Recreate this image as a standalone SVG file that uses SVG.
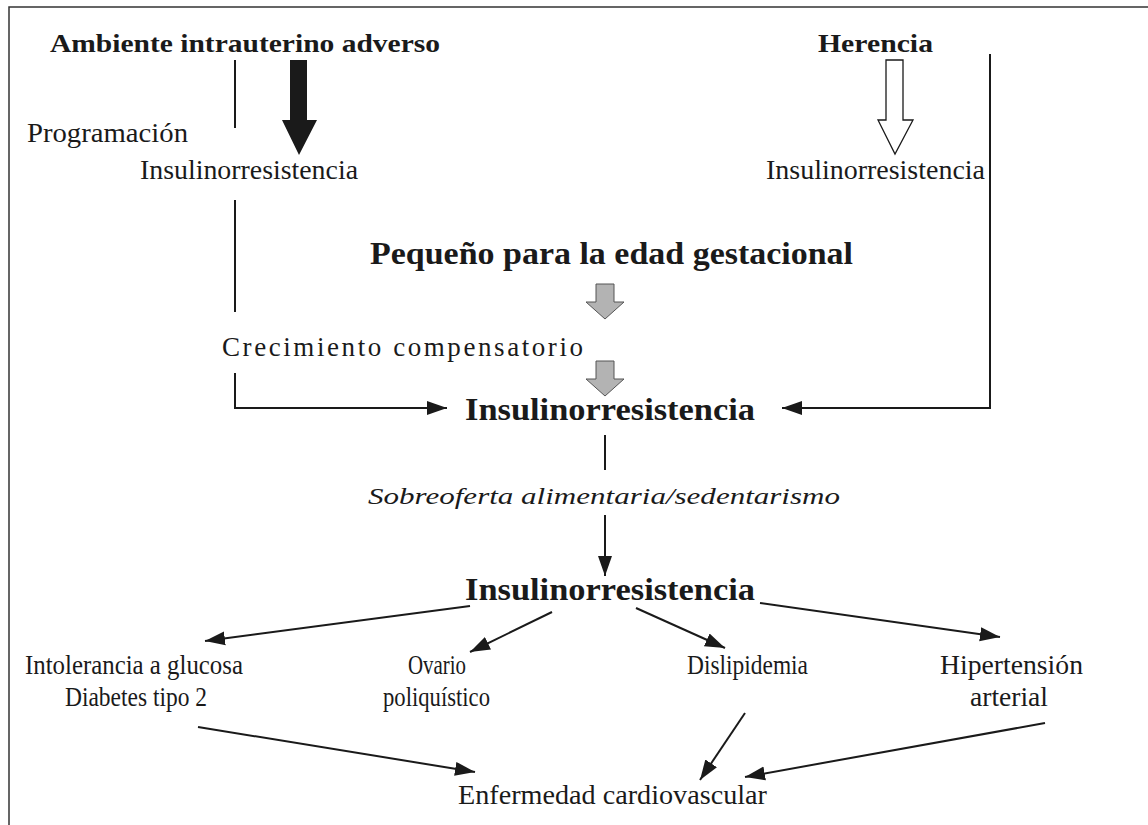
<svg xmlns="http://www.w3.org/2000/svg" width="1148" height="825" viewBox="0 0 1148 825">
<defs>
<style>
.t{font-family:"Liberation Serif","DejaVu Serif",serif;fill:#1a1a1a;font-size:27px}
.b{font-weight:bold}
.i{font-style:italic}
.ln{stroke:#1a1a1a;stroke-width:2;fill:none}
</style>
<marker id="ah" markerUnits="userSpaceOnUse" markerWidth="22" markerHeight="16" refX="20" refY="8" orient="auto">
<path d="M0,1 L20,8 L0,15 Z" fill="#1a1a1a"/>
</marker>
</defs>
<rect width="1148" height="825" fill="#fff"/>
<g id="frame"><path d="M9,825 V7 H1148" stroke="#333" stroke-width="1.5" fill="none"/></g>

<g id="connectors">
<path class="ln" d="M235,60 V128"/>
<path class="ln" d="M235,200 V312"/>
<path class="ln" d="M235,373 V408 H447" marker-end="url(#ah)"/>
<path class="ln" d="M990,54 V408 H782" marker-end="url(#ah)"/>
<path class="ln" d="M605,435 V470"/>
<path class="ln" d="M605,515 V576" marker-end="url(#ah)"/>
<path class="ln" d="M470,606 L205,641" marker-end="url(#ah)"/>
<path class="ln" d="M552,612 L470,652" marker-end="url(#ah)"/>
<path class="ln" d="M636,608 L725,648" marker-end="url(#ah)"/>
<path class="ln" d="M760,603 L1000,637" marker-end="url(#ah)"/>
<path class="ln" d="M198,727 L475,772" marker-end="url(#ah)"/>
<path class="ln" d="M745,713 L700,780" marker-end="url(#ah)"/>
<path class="ln" d="M1045,723 L745,777" marker-end="url(#ah)"/>
<polygon points="290,60 307,60 307,120 317,120 299,155 282,120 290,120" fill="#1a1a1a"/>
<polygon points="886,60 903,60 903,120 913,120 895,154 878,120 886,120" fill="#fff" stroke="#1a1a1a" stroke-width="1.3"/>
<polygon points="596,284 614,284 614,302 624,302 605,319 586,302 596,302" fill="#b3b3b3" stroke="#555" stroke-width="1"/>
<polygon points="596,361 614,361 614,379 624,379 605,396 586,379 596,379" fill="#b3b3b3" stroke="#555" stroke-width="1"/>
</g>

<g id="n-ambiente"><text class="t b" x="50" y="52" style="font-size:26px" textLength="390" lengthAdjust="spacingAndGlyphs">Ambiente intrauterino adverso</text></g>
<g id="n-herencia"><text class="t b" x="818" y="52" style="font-size:26px" textLength="115" lengthAdjust="spacingAndGlyphs">Herencia</text></g>
<g id="n-programacion"><text class="t" x="27" y="142" textLength="161" lengthAdjust="spacingAndGlyphs">Programación</text></g>
<g id="n-ir-left"><text class="t" x="140" y="179" textLength="218" lengthAdjust="spacingAndGlyphs">Insulinorresistencia</text></g>
<g id="n-ir-right"><text class="t" x="766" y="179" textLength="219" lengthAdjust="spacingAndGlyphs">Insulinorresistencia</text></g>
<g id="n-peg"><text class="t b" x="370" y="264" style="font-size:31px" textLength="483" lengthAdjust="spacingAndGlyphs">Pequeño para la edad gestacional</text></g>
<g id="n-crec"><text class="t" x="222" y="356" textLength="361" lengthAdjust="spacing">Crecimiento compensatorio</text></g>
<g id="n-ir1"><text class="t b" x="465" y="420" style="font-size:31px" textLength="290" lengthAdjust="spacingAndGlyphs">Insulinorresistencia</text></g>
<g id="n-sobre"><text class="t i" x="368" y="504" style="font-size:24px" textLength="472" lengthAdjust="spacingAndGlyphs">Sobreoferta alimentaria/sedentarismo</text></g>
<g id="n-ir2"><text class="t b" x="465" y="600" style="font-size:31px" textLength="290" lengthAdjust="spacingAndGlyphs">Insulinorresistencia</text></g>
<g id="n-intol"><text class="t" x="25" y="674" textLength="218" lengthAdjust="spacingAndGlyphs">Intolerancia a glucosa</text><text class="t" x="65" y="706" textLength="142" lengthAdjust="spacingAndGlyphs">Diabetes tipo 2</text></g>
<g id="n-ovario"><text class="t" x="408" y="674" textLength="58" lengthAdjust="spacingAndGlyphs">Ovario</text><text class="t" x="383" y="706" textLength="107" lengthAdjust="spacingAndGlyphs">poliquístico</text></g>
<g id="n-disli"><text class="t" x="687" y="674" textLength="121" lengthAdjust="spacingAndGlyphs">Dislipidemia</text></g>
<g id="n-hta"><text class="t" x="940" y="674" textLength="143" lengthAdjust="spacingAndGlyphs">Hipertensión</text><text class="t" x="970" y="706" textLength="78" lengthAdjust="spacingAndGlyphs">arterial</text></g>
<g id="n-ecv"><text class="t" x="458" y="804" textLength="309" lengthAdjust="spacingAndGlyphs">Enfermedad cardiovascular</text></g>
</svg>
